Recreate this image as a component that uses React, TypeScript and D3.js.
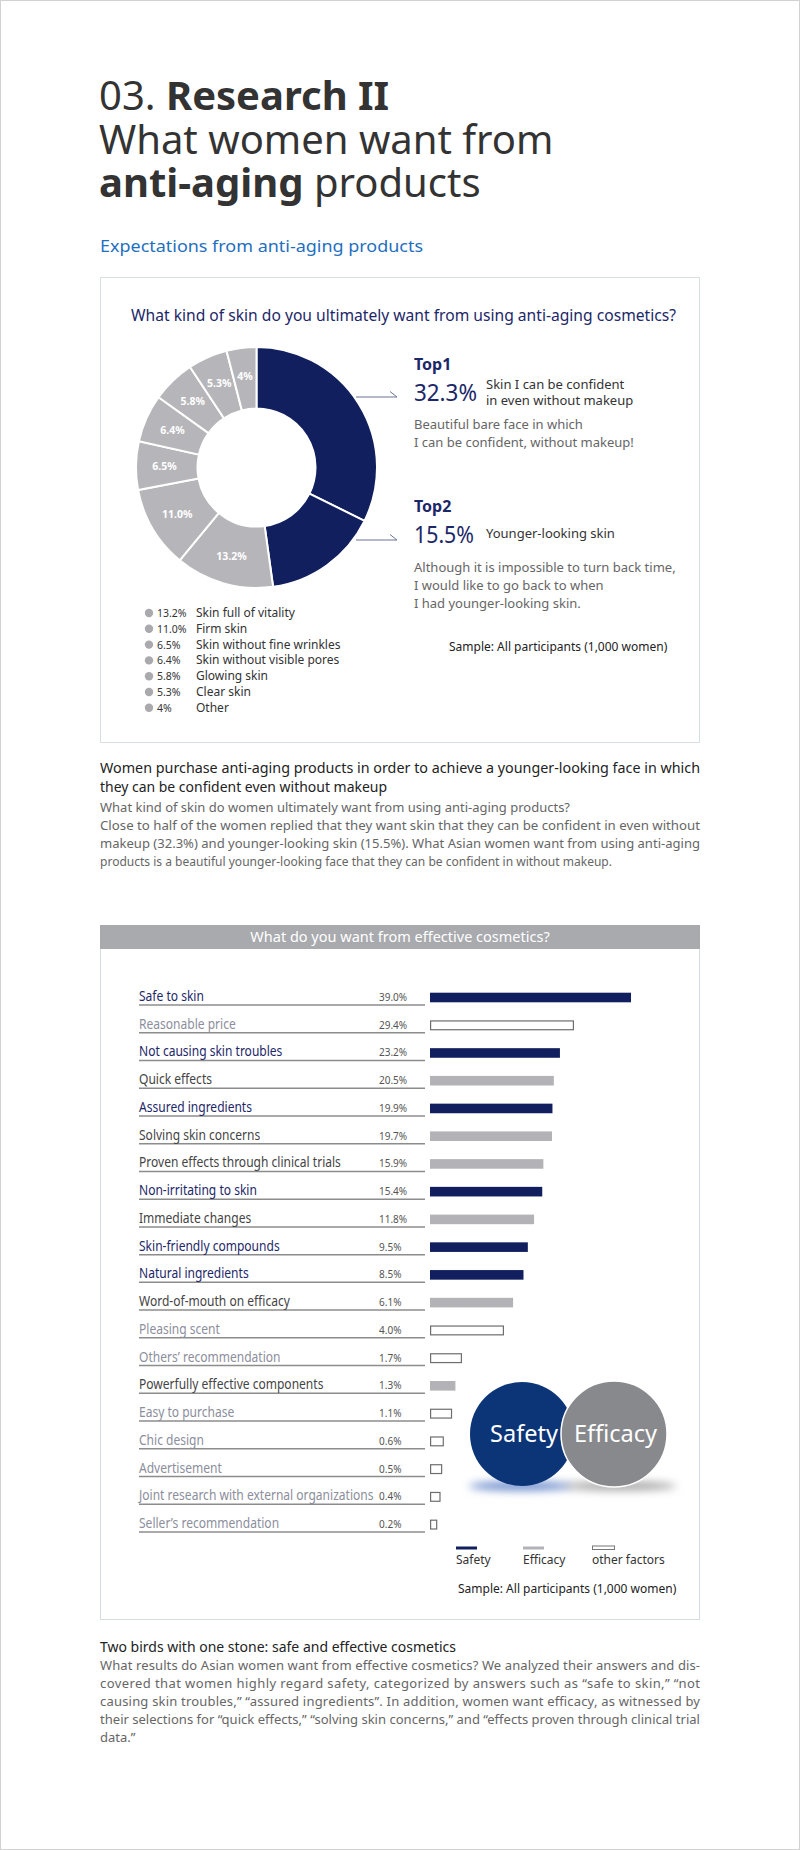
import React from 'react'
import * as d3 from 'd3'

// Donut: ultimate skin wish
const skinLabels = [
  'Skin I can be confident in even without makeup',
  'Younger-looking skin',
  'Skin full of vitality',
  'Firm skin',
  'Skin without fine wrinkles',
  'Skin without visible pores',
  'Glowing skin',
  'Clear skin',
  'Other',
]
const skinShares = [32.3, 15.5, 13.2, 11.0, 6.5, 6.4, 5.8, 5.3, 4]
const skinShareText = ['32.3%', '15.5%', '13.2%', '11.0%', '6.5%', '6.4%', '5.8%', '5.3%', '4%']
const topCount = 2

// Bars: what women want from effective cosmetics
const wantLabels = [
  'Safe to skin',
  'Reasonable price',
  'Not causing skin troubles',
  'Quick effects',
  'Assured ingredients',
  'Solving skin concerns',
  'Proven effects through clinical trials',
  'Non-irritating to skin',
  'Immediate changes',
  'Skin-friendly compounds',
  'Natural ingredients',
  'Word-of-mouth on efficacy',
  'Pleasing scent',
  'Others\u2019 recommendation',
  'Powerfully effective components',
  'Easy to purchase',
  'Chic design',
  'Advertisement',
  'Joint research with external organizations',
  'Seller\u2019s recommendation',
]
const wantValues = [39.0, 29.4, 23.2, 20.5, 19.9, 19.7, 15.9, 15.4, 11.8, 9.5, 8.5, 6.1, 4.0, 1.7, 1.3, 1.1, 0.6, 0.5, 0.4, 0.2]
const wantGroups = [
  'safety', 'other', 'safety', 'efficacy', 'safety', 'efficacy', 'efficacy', 'safety', 'efficacy', 'safety',
  'safety', 'efficacy', 'other', 'other', 'efficacy', 'other', 'other', 'other', 'other', 'other',
]
const groupKeys = ['safety', 'efficacy', 'other']
const groupNames = ['Safety', 'Efficacy', 'other factors']

const FONT = "'Noto Sans', sans-serif"
const NAVY = '#111f5e'
const NAVY_TEXT = '#1c2768'
const BAR_GRAY = '#b3b3b7'
const SLICE_GRAY = '#b6b6ba'

const labelColor: Record<string, string> = { safety: NAVY_TEXT, efficacy: '#444', other: '#8b8e9c' }

const Donut = () => {
  const cx = 256.5
  const cy = 467.5
  const pie = d3.pie<number>().sort(null).value((d) => d)
  const arcs = pie(skinShares)
  const arc = d3.arc<d3.PieArcDatum<number>>().innerRadius(59).outerRadius(120.5)
  const labelArc = d3.arc<d3.PieArcDatum<number>>().innerRadius(92).outerRadius(92)

  return (
    <g transform={`translate(${cx},${cy})`}>
      {arcs.map((a, i) => (
        <path key={i} d={arc(a) || ''} fill={i < topCount ? NAVY : SLICE_GRAY} stroke="#fff" strokeWidth={2} />
      ))}
      {arcs.map((a, i) => {
        if (i < topCount) return null
        const [lx, ly] = labelArc.centroid(a)
        return (
          <text key={i} x={lx} y={ly + 4} textAnchor="middle" fontSize={10.5} fontWeight="bold" fill="#fff">
            {skinShareText[i]}
          </text>
        )
      })}
    </g>
  )
}

const Leader = ({ y }: { y: number }) => (
  <path d={`M356,${y} H397 L390,${y - 5.5}`} fill="none" stroke="#6b7396" strokeWidth={1} />
)

const Bars = () => {
  const yLine = d3.scalePoint<string>().domain(wantLabels).range([1005, 1532])
  const xEnd = d3.scaleLinear().domain([0, 1.7, 4, 10, 29.4, 39]).range([434, 462, 504, 530, 574, 631])
  const x0 = 430

  return (
    <g>
      {wantLabels.map((label, i) => {
        const y = yLine(label) || 0
        const g = wantGroups[i]
        const w = xEnd(wantValues[i]) - x0
        return (
          <g key={label}>
            <line x1={139} x2={425} y1={y} y2={y} stroke="#8c8c8c" strokeWidth={1.5} />
            <text transform={`translate(139,${y - 4}) scale(0.86,1)`} fontSize={14} fill={labelColor[g]}>
              {label}
            </text>
            <text x={379} y={y - 4} fontSize={10} fill="#555">
              {wantValues[i].toFixed(1)}%
            </text>
            {g === 'other' ? (
              <rect x={x0 + 0.6} y={y - 11.8} width={w - 1.2} height={8.8} fill="#fff" stroke="#6e6e6e" strokeWidth={1.2} />
            ) : (
              <rect x={x0} y={y - 12.3} width={w} height={9.6} fill={g === 'safety' ? NAVY : BAR_GRAY} />
            )}
          </g>
        )
      })}
    </g>
  )
}

const BarLegend = () => {
  const xs = d3.scaleOrdinal<string, number>().domain(groupKeys).range([456, 523, 592])
  return (
    <g>
      {groupKeys.map((k, i) => {
        const x = xs(k)
        return (
          <g key={k}>
            {k === 'other' ? (
              <rect x={x + 0.5} y={1546} width={22} height={3.5} fill="#fff" stroke="#777" strokeWidth={1} />
            ) : (
              <rect x={x} y={1546.5} width={21} height={3} fill={k === 'safety' ? NAVY : BAR_GRAY} />
            )}
            <text x={x} y={1563.5} fontSize={12} fill="#333">
              {groupNames[i]}
            </text>
          </g>
        )
      })}
    </g>
  )
}

const App = () => {
  const legendRows = skinLabels.slice(topCount)
  return (
    <>
      <style>{'body{margin:0}'}</style>
      <svg width={800} height={1850} fontFamily={FONT} style={{ display: 'block', background: '#fff' }}>
        <defs>
          <filter id="soft" x="-50%" y="-200%" width="200%" height="500%">
            <feGaussianBlur stdDeviation="4" />
          </filter>
        </defs>
        <rect x={0.5} y={0.5} width={799} height={1849} fill="#fff" stroke="#d2d2d2" />

        {/* Heading */}
        <g fill="#333" fontSize={40}>
          <text x={99} y={110}>
            03. <tspan fontWeight="bold">Research II</tspan>
          </text>
          <text x={99} y={154}>What women want from</text>
          <text x={99} y={197}>
            <tspan fontWeight="bold">anti-aging</tspan> products
          </text>
        </g>
        <text x={100} y={252} fontSize={17} fill="#1f6fbf" textLength={323} lengthAdjust="spacingAndGlyphs">
          Expectations from anti-aging products
        </text>

        {/* Box 1 */}
        <rect x={100.5} y={277.5} width={599} height={465} fill="#fff" stroke="#d7dfe5" />
        <text x={131} y={321} fontSize={16} fill={NAVY_TEXT} textLength={545} lengthAdjust="spacingAndGlyphs">
          What kind of skin do you ultimately want from using anti-aging cosmetics?
        </text>
        <Donut />
        <Leader y={397} />
        <Leader y={540} />

        <g>
          <text x={414} y={370} fontSize={16} fontWeight="bold" fill={NAVY_TEXT}>Top1</text>
          <text x={414} y={401} fontSize={23} fill={NAVY_TEXT} textLength={63} lengthAdjust="spacingAndGlyphs">
            {skinShareText[0]}
          </text>
          <text x={486} y={389} fontSize={13} fill="#333">Skin I can be confident</text>
          <text x={486} y={405} fontSize={13} fill="#333">in even without makeup</text>
          <text x={414} y={429} fontSize={13} fill="#666">Beautiful bare face in which</text>
          <text x={414} y={447} fontSize={13} fill="#666">I can be confident, without makeup!</text>

          <text x={414} y={512} fontSize={16} fontWeight="bold" fill={NAVY_TEXT}>Top2</text>
          <text x={414} y={543} fontSize={23} fill={NAVY_TEXT} textLength={60} lengthAdjust="spacingAndGlyphs">
            {skinShareText[1]}
          </text>
          <text x={486} y={538} fontSize={13} fill="#333">{skinLabels[1]}</text>
          <text x={414} y={572} fontSize={13} fill="#666">Although it is impossible to turn back time,</text>
          <text x={414} y={590} fontSize={13} fill="#666">I would like to go back to when</text>
          <text x={414} y={608} fontSize={13} fill="#666">I had younger-looking skin.</text>
        </g>

        <g>
          {legendRows.map((label, i) => {
            const y = 617 + 15.8 * i
            return (
              <g key={label}>
                <circle cx={149} cy={y - 4} r={4.2} fill="#aaaaae" />
                <text x={157} y={y} fontSize={10.5} fill="#333">{skinShareText[i + topCount]}</text>
                <text x={196} y={y} fontSize={12} fill="#333">{label}</text>
              </g>
            )
          })}
        </g>
        <text x={449} y={651} fontSize={12} fill="#222">Sample: All participants (1,000 women)</text>

        {/* Paragraph 1 */}
        <g fontSize={14} fill="#222">
          <text x={100} y={773} textLength={600} lengthAdjust="spacingAndGlyphs">
            Women purchase anti-aging products in order to achieve a younger-looking face in which
          </text>
          <text x={100} y={792} textLength={287} lengthAdjust="spacingAndGlyphs">
            they can be confident even without makeup
          </text>
        </g>
        <g fontSize={13} fill="#666">
          <text x={100} y={812} textLength={470} lengthAdjust="spacingAndGlyphs">
            What kind of skin do women ultimately want from using anti-aging products?
          </text>
          <text x={100} y={830} textLength={600} lengthAdjust="spacingAndGlyphs">
            Close to half of the women replied that they want skin that they can be confident in even without
          </text>
          <text x={100} y={848} textLength={600} lengthAdjust="spacingAndGlyphs">
            makeup (32.3%) and younger-looking skin (15.5%). What Asian women want from using anti-aging
          </text>
          <text x={100} y={866} textLength={512} lengthAdjust="spacingAndGlyphs">
            products is a beautiful younger-looking face that they can be confident in without makeup.
          </text>
        </g>

        {/* Box 2 */}
        <rect x={100.5} y={925.5} width={599} height={694} fill="#fff" stroke="#d5dbe0" />
        <rect x={100} y={925} width={600} height={24} fill="#a9aaae" />
        <text x={400} y={942} textAnchor="middle" fontSize={14.5} fill="#fff">
          What do you want from effective cosmetics?
        </text>
        <Bars />

        <ellipse cx={521} cy={1486} rx={52} ry={4.5} fill="#6d8ccc" filter="url(#soft)" />
        <ellipse cx={620} cy={1486} rx={56} ry={4.5} fill="#a5a5a5" filter="url(#soft)" />
        <circle cx={522} cy={1434} r={52} fill="#0b3577" />
        <circle cx={614} cy={1434} r={53} fill="#88898c" stroke="#fff" strokeWidth={1.5} />
        <text x={524} y={1442} textAnchor="middle" fontSize={23.5} fill="#fff">Safety</text>
        <text x={615.5} y={1442} textAnchor="middle" fontSize={23.5} fill="#fff">Efficacy</text>

        <BarLegend />
        <text x={458} y={1593} fontSize={12} fill="#222">Sample: All participants (1,000 women)</text>

        {/* Paragraph 2 */}
        <text x={100} y={1652} fontSize={14} fill="#222" textLength={356} lengthAdjust="spacingAndGlyphs">
          Two birds with one stone: safe and effective cosmetics
        </text>
        <g fontSize={13} fill="#666">
          <text x={100} y={1670} textLength={600} lengthAdjust="spacing">
            What results do Asian women want from effective cosmetics? We analyzed their answers and dis-
          </text>
          <text x={100} y={1688} textLength={600} lengthAdjust="spacing">
            covered that women highly regard safety, categorized by answers such as {'\u201c'}safe to skin,{'\u201d'} {'\u201c'}not
          </text>
          <text x={100} y={1706} textLength={600} lengthAdjust="spacing">
            causing skin troubles,{'\u201d'} {'\u201c'}assured ingredients{'\u201d'}. In addition, women want efficacy, as witnessed by
          </text>
          <text x={100} y={1724} textLength={600} lengthAdjust="spacingAndGlyphs">
            their selections for {'\u201c'}quick effects,{'\u201d'} {'\u201c'}solving skin concerns,{'\u201d'} and {'\u201c'}effects proven through clinical trial
          </text>
          <text x={100} y={1742}>data.{'\u201d'}</text>
        </g>
      </svg>
    </>
  )
}

export default App
